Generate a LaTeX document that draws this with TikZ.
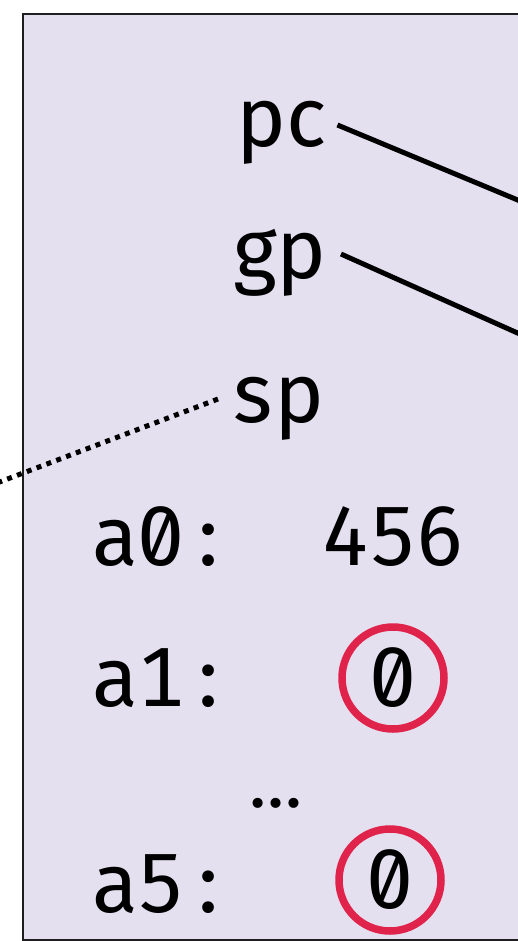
\documentclass[tikz,border=0pt]{standalone}
\usepackage{fontspec}
\newfontfamily\regfont[Numbers={Monospaced,SlashedZero}]{Fira Sans}
\usetikzlibrary{calc}
\definecolor{regbg}{RGB}{228,224,240}
\definecolor{frame}{RGB}{30,30,30}
\definecolor{mark}{RGB}{224,35,75}
\begin{document}
\begin{tikzpicture}[x=1pt,y=-1pt,
  reg/.style={font=\regfont\fontsize{84}{84}\selectfont, inner sep=0pt, anchor=base west},
  zero/.style={circle, draw=mark, line width=7.5pt, minimum size=102pt, inner sep=0pt,
               font=\regfont\fontsize{84}{84}\selectfont},
  wire/.style={line width=5pt},
  ptr/.style={line width=5pt, dash pattern=on 5pt off 5.5pt}]
\useasboundingbox (0,0) rectangle (518,941);
\clip (0,0) rectangle (518,941);
% register file panel
\draw[fill=regbg, draw=frame, line width=2pt] (22.5,14.5) rectangle (600,940);
% register names and values
\node[reg] (pc) at (236,147) {pc};
\node[reg] (gp) at (233,278) {gp};
\node[reg] (sp) at (233,422) {s\kern2pt p};
\node[reg] (a0) at (92,565) {a0\,:};
\node[reg] (v0) at (322,565) {456};
\node[reg] (a1) at (92,706) {a1\,:};
\node[zero] (v1) at (393,678) {0};
\node[reg, anchor=base, font=\regfont\fontsize{72}{72}\selectfont] (dots) at (276.5,807) {…};
\node[reg] (a5) at (92,912) {a5\,:};
\node[zero] (v5) at (390,880) {0};
% pointer targets outside the panel
\coordinate (pcEnd) at (560,217.6);
\coordinate (gpEnd) at (560,352);
\coordinate (spEnd) at (-40,497);
\draw[wire] ($(pc.base east)+(11,-22)$) -- (pcEnd);
\draw[wire] ($(gp.base east)+(14,-24)$) -- (gpEnd);
\draw[ptr] ($(sp.base west)+(-15,-23)$) -- (spEnd);
\end{tikzpicture}
\end{document}
